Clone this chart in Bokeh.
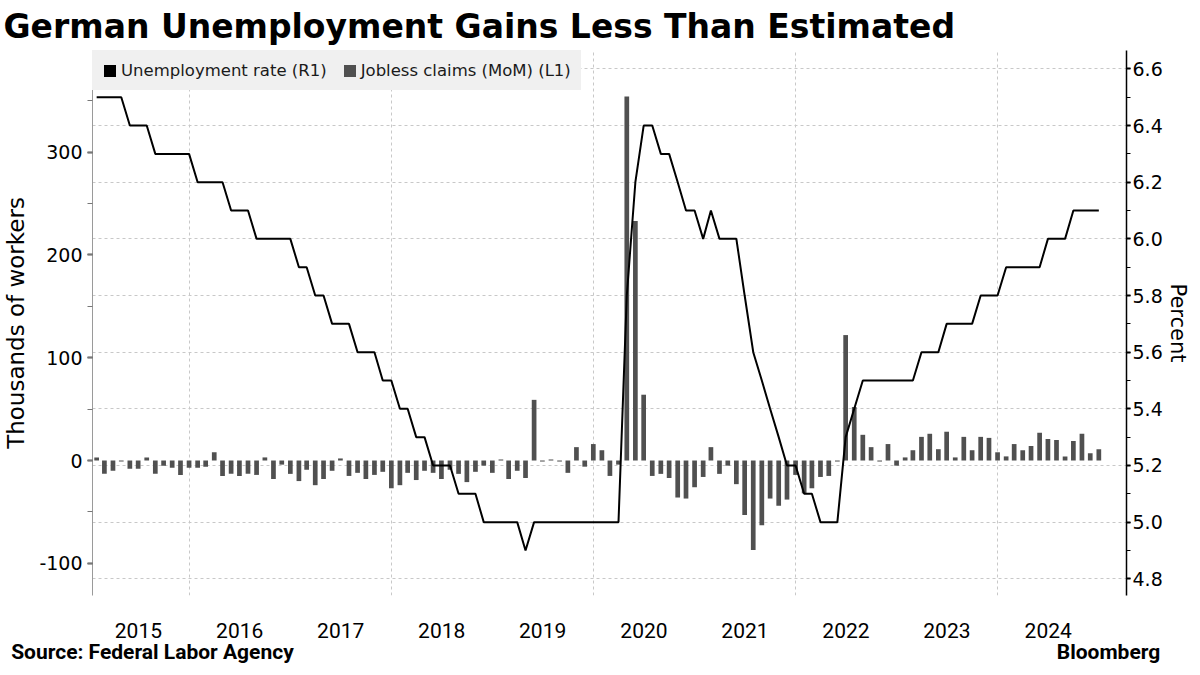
from datetime import datetime
import pandas as pd
from bokeh.plotting import figure
from bokeh.models import (Range1d, LinearAxis, SingleIntervalTicker, FixedTicker, Grid,
                          Legend, LegendItem, PrintfTickFormatter, DatetimeTickFormatter)
from bokeh.embed import file_html
from bokeh.resources import INLINE

# ---------------- data ----------------
years = [2015, 2016, 2017, 2018, 2019, 2020, 2021, 2022, 2023, 2024]

# Jobless claims, month-on-month change (thousands), Jan..Dec of each year
claims_2015 = [3, -13, -10, -1, -8, -8, 3, -13, -5, -7, -14, -7]
claims_2016 = [-7, -6, 8, -15, -13, -15, -13, -14, 3, -18, -4, -13]
claims_2017 = [-20, -9, -24, -18, -10, 2, -15, -12, -18, -14, -11, -27]
claims_2018 = [-24, -12, -19, -10, -12, -18, -9, -13, -21, -11, -5, -12]
claims_2019 = [1, -18, -10, -17, 59, -1, 1, -1, -12, 13, -6, 16]
claims_2020 = [10, -15, -4, 354, 233, 64, -15, -13, -17, -36, -37, -26]
claims_2021 = [-16, 13, -13, -5, -23, -53, -87, -63, -37, -44, -38, -14]
claims_2022 = [-32, -27, -16, -15, -1, 122, 52, 25, 13, -1, 16, -5]
claims_2023 = [3, 10, 23, 26, 11, 28, 3, 23, 10, 23, 22, 8]
claims_2024 = [4, 16, 10, 14, 27, 21, 20, 4, 19, 26, 7, 11]

# Unemployment rate (percent), Jan..Dec of each year
rate_2015 = [6.5, 6.5, 6.5, 6.5, 6.4, 6.4, 6.4, 6.3, 6.3, 6.3, 6.3, 6.3]
rate_2016 = [6.2, 6.2, 6.2, 6.2, 6.1, 6.1, 6.1, 6.0, 6.0, 6.0, 6.0, 6.0]
rate_2017 = [5.9, 5.9, 5.8, 5.8, 5.7, 5.7, 5.7, 5.6, 5.6, 5.6, 5.5, 5.5]
rate_2018 = [5.4, 5.4, 5.3, 5.3, 5.2, 5.2, 5.2, 5.1, 5.1, 5.1, 5.0, 5.0]
rate_2019 = [5.0, 5.0, 5.0, 4.9, 5.0, 5.0, 5.0, 5.0, 5.0, 5.0, 5.0, 5.0]
rate_2020 = [5.0, 5.0, 5.0, 5.8, 6.2, 6.4, 6.4, 6.3, 6.3, 6.2, 6.1, 6.1]
rate_2021 = [6.0, 6.1, 6.0, 6.0, 6.0, 5.8, 5.6, 5.5, 5.4, 5.3, 5.2, 5.2]
rate_2022 = [5.1, 5.1, 5.0, 5.0, 5.0, 5.3, 5.4, 5.5, 5.5, 5.5, 5.5, 5.5]
rate_2023 = [5.5, 5.5, 5.6, 5.6, 5.6, 5.7, 5.7, 5.7, 5.7, 5.8, 5.8, 5.8]
rate_2024 = [5.9, 5.9, 5.9, 5.9, 5.9, 6.0, 6.0, 6.0, 6.1, 6.1, 6.1, 6.1]

claims = (claims_2015 + claims_2016 + claims_2017 + claims_2018 + claims_2019 +
          claims_2020 + claims_2021 + claims_2022 + claims_2023 + claims_2024)
rate = (rate_2015 + rate_2016 + rate_2017 + rate_2018 + rate_2019 +
        rate_2020 + rate_2021 + rate_2022 + rate_2023 + rate_2024)

title_text = "German Unemployment Gains Less Than Estimated"
source_text = "Source: Federal Labor Agency"
brand_text = "Bloomberg"

# monthly observations stamped at month end
dates = [pd.Timestamp(year=y, month=m, day=1) + pd.offsets.MonthEnd(0)
         for y in years for m in range(1, 13)]


def ms(d):
    return (d - datetime(1970, 1, 1)).total_seconds() * 1000.0


# ---------------- geometry ----------------
W, H = 1192, 667
FL, FT, FR, FB = 91, 50, 1126, 595   # plot frame edges (canvas px)

p = figure(width=W, height=H, x_axis_type="datetime",
           x_range=Range1d(datetime(2015, 1, 16), datetime(2025, 4, 10)),
           y_range=Range1d(-131.3, 398.8),
           output_backend="svg", toolbar_location=None,
           min_border_left=FL, min_border_right=W - FR, min_border_top=FT,
           min_border_bottom=H - FB, outline_line_color=None,
           background_fill_color="white", border_fill_color="white")
p.extra_y_ranges = {"rate": Range1d(4.741, 6.665)}
p.extra_x_ranges = {"px": Range1d(FL, FR)}   # pixel-like range for the footer line
p.grid.visible = False

# title (above panel, pulled to the left edge)
p.title.text = title_text
p.title.align = "left"
p.title.offset = -(FL - 2)
p.title.standoff = 9
p.title.text_font = "DejaVu Sans"
p.title.text_font_size = "33px"
p.title.text_font_style = "bold"
p.title.text_color = "black"

# left axis (thousands)
ly = p.yaxis[0]
ly.ticker = SingleIntervalTicker(interval=100, num_minor_ticks=2)
ly.formatter = PrintfTickFormatter(format="%d")
ly.axis_label = "Thousands of workers"
ly.axis_label_text_font = "DejaVu Sans"
ly.axis_label_text_font_size = "23px"
ly.axis_label_text_font_style = "normal"
ly.axis_label_text_color = "black"
ly.axis_label_standoff = 7
ly.major_label_text_font = "DejaVu Sans"
ly.major_label_text_font_size = "19px"
ly.major_label_text_color = "black"
ly.major_label_standoff = 5
ly.axis_line_color = "#9a9a9a"
ly.major_tick_line_color = "#555555"
ly.major_tick_line_width = 2
ly.major_tick_out = 5
ly.major_tick_in = 0
ly.minor_tick_line_color = "#777777"
ly.minor_tick_out = 5
ly.minor_tick_in = 0

# right axis (percent)
ry = LinearAxis(y_range_name="rate",
                ticker=SingleIntervalTicker(interval=0.2, num_minor_ticks=2),
                formatter=PrintfTickFormatter(format="%.1f"),
                axis_label="Percent")
ry.axis_label_text_font = "DejaVu Sans"
ry.axis_label_text_font_size = "21px"
ry.axis_label_text_font_style = "normal"
ry.axis_label_text_color = "black"
ry.axis_label_standoff = 0
ry.major_label_text_font = "DejaVu Sans"
ry.major_label_text_font_size = "19px"
ry.major_label_text_color = "black"
ry.major_label_standoff = 2
ry.axis_line_color = "black"
ry.axis_line_width = 1.5
ry.major_tick_line_color = "black"
ry.major_tick_line_width = 2
ry.major_tick_out = 4
ry.major_tick_in = 0
ry.minor_tick_line_color = "black"
ry.minor_tick_out = 4
ry.minor_tick_in = 0
p.add_layout(ry, "right")

# bottom axis: years centred mid-year
bx = p.xaxis[0]
bx.ticker = FixedTicker(ticks=[ms(datetime(y, 7, 1)) for y in years])
bx.formatter = DatetimeTickFormatter(years="%Y", months="%Y", days="%Y", hours="%Y",
                                     hourmin="%Y", minutes="%Y", minsec="%Y",
                                     seconds="%Y", milliseconds="%Y", microseconds="%Y")
bx.axis_line_color = None
bx.major_tick_line_color = None
bx.minor_tick_line_color = None
bx.major_tick_out = 0
bx.major_tick_in = 0
bx.major_label_standoff = 27
bx.major_label_text_font = "Roboto"
bx.major_label_text_font_size = "21px"
bx.major_label_text_color = "black"

# footer line (source on the left, brand on the right) as a label-only axis
src_pos, brand_pos = 151.0, 1108.0
fx = LinearAxis(x_range_name="px", ticker=FixedTicker(ticks=[src_pos, brand_pos]),
                major_label_overrides={src_pos: source_text, brand_pos: brand_text})
fx.axis_line_color = None
fx.major_tick_line_color = None
fx.minor_tick_line_color = None
fx.major_tick_out = 0
fx.major_tick_in = 0
fx.major_label_standoff = -1
fx.major_label_text_font = "Roboto"
fx.major_label_text_font_size = "21px"
fx.major_label_text_font_style = "bold"
fx.major_label_text_color = "black"
p.add_layout(fx, "below")

# grids
p.add_layout(Grid(dimension=0,
                  ticker=FixedTicker(ticks=[ms(datetime(y, 1, 1)) for y in [2016, 2018, 2020, 2022, 2024]]),
                  grid_line_color="#c8c8c8", grid_line_dash="3 3"))
p.add_layout(Grid(dimension=1, ticker=ry.ticker, y_range_name="rate",
                  grid_line_color="#c8c8c8", grid_line_dash="3 3"))

# glyphs
dummy = p.vbar(x=[datetime(2000, 1, 1)], top=[1], width=1, fill_color="black", line_color=None)
bars = p.vbar(x=dates, top=claims, width=17 * 86400000, fill_color="#505050", line_color=None)
line = p.line(x=dates, y=rate, y_range_name="rate", line_color="black", line_width=2)

legend = Legend(items=[LegendItem(label="Unemployment rate (R1)", renderers=[dummy]),
                       LegendItem(label="Jobless claims (MoM) (L1)", renderers=[bars])],
                location="top_left", orientation="horizontal", margin=0, padding=10,
                spacing=15, label_standoff=4, glyph_width=15, glyph_height=15,
                label_height=20, label_text_font="DejaVu Sans", label_text_font_size="16.5px",
                label_text_color="#1a1a1a", background_fill_color="#f0f0f0",
                background_fill_alpha=1.0, border_line_alpha=0)
p.add_layout(legend)

open("out.html", "w").write(file_html(p, INLINE))
